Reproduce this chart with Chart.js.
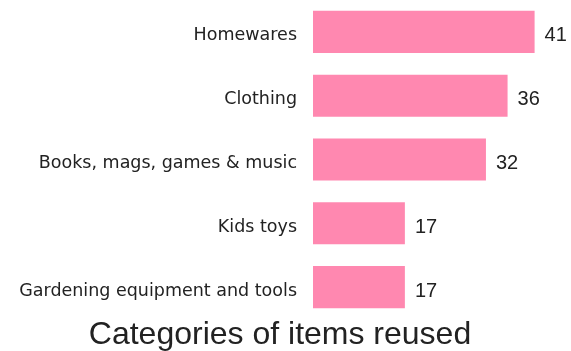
<!DOCTYPE html>
<html>
<head>
<meta charset="utf-8">
<script src="https://cdn.jsdelivr.net/npm/chart.js@4.4.1/dist/chart.umd.min.js"></script>
<style>
  html, body { margin: 0; padding: 0; background: #fff; }
  #wrap { width: 571px; height: 351px; }
</style>
</head>
<body>
<div id="wrap"><canvas id="reuseChart"></canvas></div>
<script>
// ===== Data =====
const categories = [
  'Homewares',
  'Clothing',
  'Books, mags, games & music',
  'Kids toys',
  'Gardening equipment and tools'
];
const itemsReused = [41, 36, 32, 17, 17];
const chartTitle = 'Categories of items reused';

// ===== Value labels at bar ends =====
const valueLabels = {
  id: 'valueLabels',
  afterDatasetsDraw(chart) {
    const c = chart.ctx;
    const meta = chart.getDatasetMeta(0);
    c.save();
    c.font = '20px "Liberation Sans", Arial, sans-serif';
    c.fillStyle = '#222';
    c.textBaseline = 'middle';
    c.textAlign = 'left';
    meta.data.forEach(function(bar, i) {
      c.fillText(itemsReused[i], bar.x + 10, bar.y + 4);
    });
    c.restore();
  }
};

const ctx = document.getElementById('reuseChart').getContext('2d');
const reuseChart = new Chart(ctx, {
  type: 'bar',
  data: {
    labels: categories,
    datasets: [{
      data: itemsReused,
      backgroundColor: '#ff88b0',
      borderWidth: 0,
      barPercentage: 0.66,
      categoryPercentage: 1
    }]
  },
  options: {
    indexAxis: 'y',
    responsive: true,
    maintainAspectRatio: false,
    animation: false,
    layout: { padding: { left: 20, right: 31, top: 0, bottom: 0 } },
    plugins: {
      legend: { display: false },
      tooltip: { enabled: false },
      title: {
        display: true,
        position: 'bottom',
        text: chartTitle,
        color: '#222',
        font: { family: '"Liberation Sans", Arial, sans-serif', size: 32, weight: 'normal', lineHeight: 1 },
        padding: { top: 0, bottom: 0 }
      }
    },
    scales: {
      x: {
        display: false,
        min: 0,
        max: 42
      },
      y: {
        grid: { display: false, drawTicks: false },
        border: { display: false },
        afterFit: function(scale) {
          // labels are wide, keep them from being cut
          scale.width = 293;
          scale.paddingTop = 0;
          scale.paddingBottom = 0;
        },
        ticks: {
          color: '#222',
          padding: 16,
          labelOffset: 4,
          font: { family: '"DejaVu Sans", sans-serif', size: 17.5 }
        }
      }
    }
  },
  plugins: [valueLabels]
});
</script>
</body>
</html>
